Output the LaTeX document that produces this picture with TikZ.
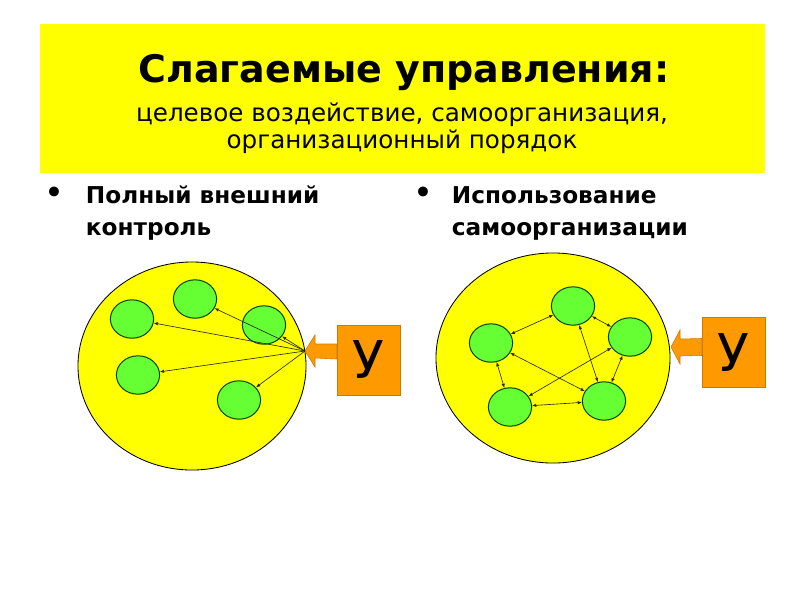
\documentclass[tikz,border=0pt]{standalone}
\usepackage{fontspec}
\setmainfont{DejaVu Sans}
\usetikzlibrary{calc,arrows.meta,shapes.geometric}

\definecolor{banner}{RGB}{255,255,0}
\definecolor{cellfill}{RGB}{102,255,51}
\definecolor{ctrlfill}{RGB}{255,153,0}

\tikzset{
  system/.style={ellipse, draw=black, line width=0.6pt, fill=banner, inner sep=0pt},
  cell/.style={ellipse, draw=green!25!black, line width=0.7pt, fill=cellfill, inner sep=0pt,
    minimum width=1.08cm, minimum height=0.96cm},
  ctrl/.style={draw=ctrlfill!80!black, fill=ctrlfill, inner sep=0pt,
    minimum width=1.58cm, minimum height=1.75cm, font=\fontsize{37}{40}\selectfont},
  link/.style={draw=black!85, line width=0.45pt, -{Latex[length=3pt,width=2.4pt]}},
  dlink/.style={link, {Latex[length=3pt,width=2.4pt]}-{Latex[length=3pt,width=2.4pt]}},
  bigarrow/.style={fill=ctrlfill, draw=ctrlfill!80!black, line width=0.4pt},
  bullet/.style={font=\fontsize{24}{24}\selectfont},
  head/.style={anchor=base west, font=\fontsize{16.5}{20}\selectfont\bfseries},
}

\begin{document}
\begin{tikzpicture}[x=0.025cm, y=-0.025cm]
  \useasboundingbox (0,0) rectangle (800,600);

  % heading
  \fill[banner] (40,24) rectangle (765,173);
  \node[anchor=base, font=\fontsize{27}{30}\selectfont\bfseries] (title) at (404,82) {Слагаемые управления:};
  \node[anchor=base, font=\fontsize{17.5}{20}\selectfont] (sub1) at (402,121) {целевое воздействие, самоорганизация,};
  \node[anchor=base, font=\fontsize{17.5}{20}\selectfont] (sub2) at (402,148) {организационный порядок};

  % bullets
  \node[bullet] (dotL) at (54,196) {•};
  \node[head] (headL1) at (81,203) {Полный внешний};
  \node[head] (headL2) at (81,235) {контроль};
  \node[bullet] (dotR) at (423,196) {•};
  \node[head] (headR1) at (447,203) {Использование};
  \node[head] (headR2) at (447,235) {самоорганизации};

  % left: full external control
  \node[system, minimum width=5.7cm, minimum height=5.2cm] (sysL) at (192,366) {};
  \node[cell] (l1) at (132,319) {};
  \node[cell] (l2) at (195,299) {};
  \node[cell] (l3) at (264,325) {};
  \node[cell] (l4) at (138,375) {};
  \node[cell] (l5) at (239,400) {};
  \coordinate (hubL) at (305,351);
  \node[ctrl] (ctrlL) at (368.5,360) {У};
  \fill[bigarrow] ($(ctrlL.west)+(0,-16)$) -- ($(hubL)+(10,-7)$) -- ($(hubL)+(10,-16)$) -- (hubL)
    -- ($(hubL)+(10,16)$) -- ($(hubL)+(10,7)$) -- ($(ctrlL.west)+(0,-1)$) -- cycle;
  \foreach \c in {l1,l2,l3,l4,l5}
    \draw[link] (hubL) -- (\c);

  % right: self-organisation
  \node[system, minimum width=5.85cm, minimum height=5.25cm] (sysR) at (553,358) {};
  \node[cell] (r1) at (573,306) {};
  \node[cell] (r2) at (630,337) {};
  \node[cell] (r3) at (491,343) {};
  \node[cell] (r4) at (510,407) {};
  \node[cell] (r5) at (604,401) {};
  \coordinate (hubR) at (671,347);
  \node[ctrl] (ctrlR) at (733.5,352.5) {У};
  \fill[bigarrow] ($(ctrlR.west)+(0,-14)$) -- ($(hubR)+(9,-8)$) -- ($(hubR)+(9,-17)$) -- (hubR)
    -- ($(hubR)+(9,17)$) -- ($(hubR)+(9,9)$) -- ($(ctrlR.west)+(0,3)$) -- cycle;
  \foreach \a/\b in {r3/r1, r1/r2, r1/r5, r2/r5, r3/r4, r4/r5, r3/r5, r2/r4}
    \draw[dlink] (\a) -- (\b);
\end{tikzpicture}
\end{document}
